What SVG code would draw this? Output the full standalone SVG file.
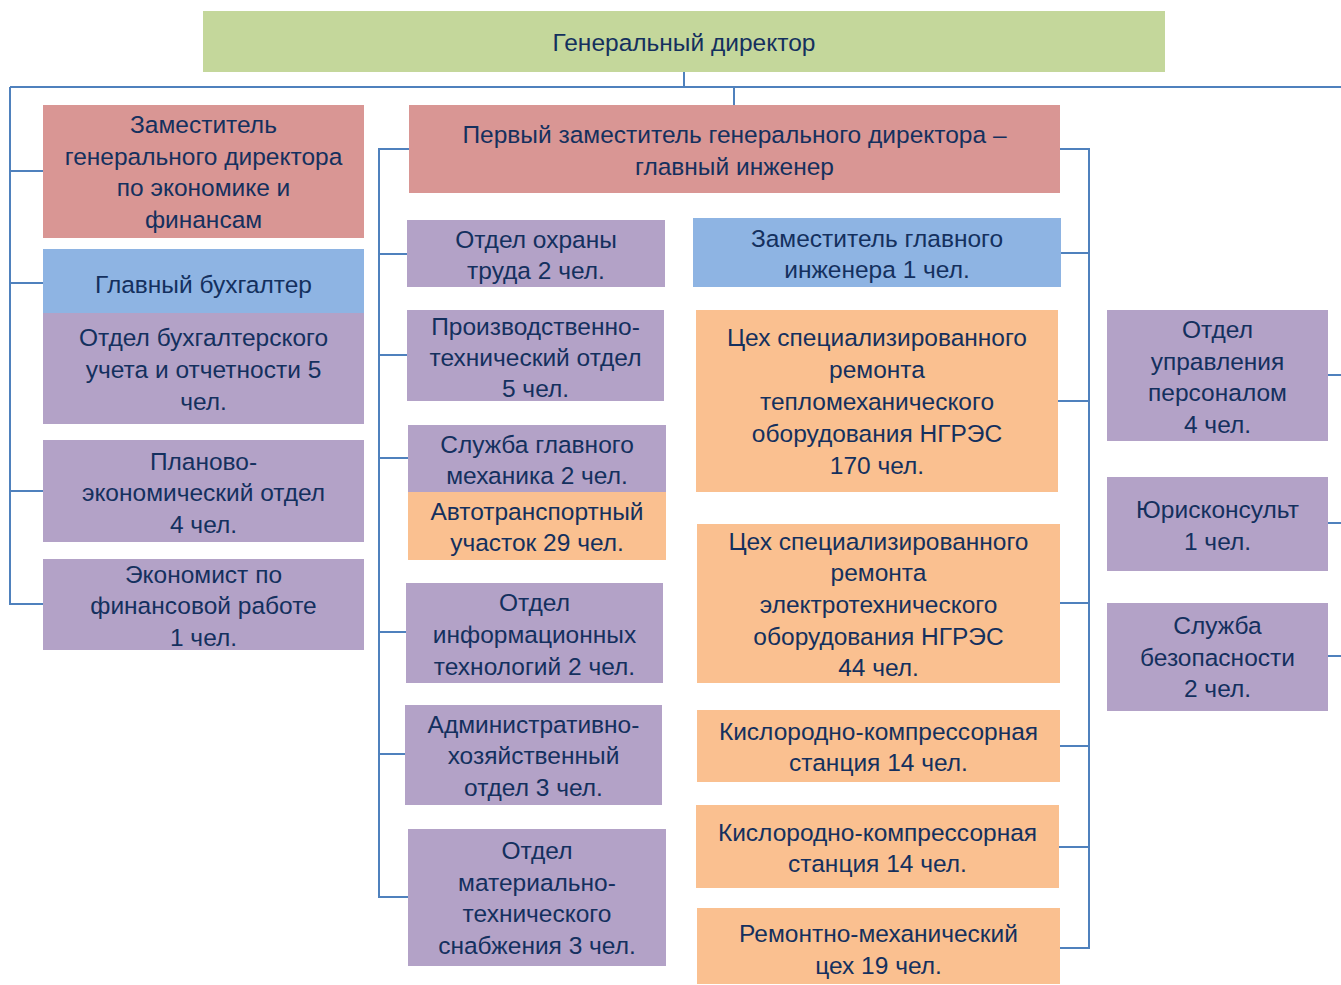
<svg xmlns="http://www.w3.org/2000/svg" width="1341" height="985" viewBox="0 0 1341 985">
<style>
text{font-family:"Liberation Sans",Arial,sans-serif;font-size:24.5px;fill:#14305E;text-anchor:middle}
.g{fill:#C4D79B}.p{fill:#D99694}.b{fill:#8EB4E3}.v{fill:#B3A2C7}.o{fill:#FAC090}
#connectors path{fill:none;stroke:#4F81BD;stroke-width:2}
</style>
<rect width="1341" height="985" fill="#FFFFFF"/>
<g id="connectors">
<path d="M684,72V87"/>
<path d="M10,87H1341"/>
<path d="M734,87V105"/>
<path d="M10,87V604H43M10,171H43M10,283H43M10,491H43"/>
<path d="M409,149H379V897H408M379,254H407M379,355H407M379,458H408M379,632H406M379,754H405"/>
<path d="M1060,149H1089V948H1060M1089,253H1061M1089,401H1058M1089,603H1060M1089,746H1060M1089,847H1059"/>
<path d="M1328,375H1341M1328,523H1341M1328,656H1341"/>
</g>
<g id="gen"><rect class="g" x="203" y="11" width="962" height="61"/><text x="684" y="51">Генеральный директор</text></g>
<g id="zam-econ"><rect class="p" x="43" y="105" width="321" height="133"/><text x="203.5" y="133">Заместитель</text><text x="203.5" y="165">генерального директора</text><text x="203.5" y="196">по экономике и</text><text x="203.5" y="228">финансам</text></g>
<g id="glbuh"><rect class="b" x="43" y="249" width="321" height="64"/><text x="203.5" y="293">Главный бухгалтер</text></g>
<g id="otd-buh"><rect class="v" x="43" y="313" width="321" height="111"/><text x="203.5" y="346">Отдел бухгалтерского</text><text x="203.5" y="378">учета и отчетности 5</text><text x="203.5" y="410">чел.</text></g>
<g id="plan"><rect class="v" x="43" y="440" width="321" height="102"/><text x="203.5" y="470">Планово-</text><text x="203.5" y="501">экономический отдел</text><text x="203.5" y="533">4 чел.</text></g>
<g id="econom"><rect class="v" x="43" y="559" width="321" height="91"/><text x="203.5" y="583">Экономист по</text><text x="203.5" y="614">финансовой работе</text><text x="203.5" y="646">1 чел.</text></g>
<g id="first-zam"><rect class="p" x="409" y="105" width="651" height="88"/><text x="734.5" y="143">Первый заместитель генерального директора –</text><text x="734.5" y="175">главный инженер</text></g>
<g id="ohrana"><rect class="v" x="407" y="220" width="258" height="67"/><text x="536" y="248">Отдел охраны</text><text x="536" y="279">труда 2 чел.</text></g>
<g id="pto"><rect class="v" x="407" y="310" width="257" height="91"/><text x="535.5" y="335">Производственно-</text><text x="535.5" y="366">технический отдел</text><text x="535.5" y="397">5 чел.</text></g>
<g id="mech"><rect class="v" x="408" y="425" width="258" height="67"/><text x="537" y="453">Служба главного</text><text x="537" y="484">механика 2 чел.</text></g>
<g id="avto"><rect class="o" x="408" y="492" width="258" height="68"/><text x="537" y="520">Автотранспортный</text><text x="537" y="551">участок 29 чел.</text></g>
<g id="it"><rect class="v" x="406" y="583" width="257" height="100"/><text x="534.5" y="611">Отдел</text><text x="534.5" y="643">информационных</text><text x="534.5" y="675">технологий 2 чел.</text></g>
<g id="aho"><rect class="v" x="405" y="705" width="257" height="100"/><text x="533.5" y="733">Административно-</text><text x="533.5" y="764">хозяйственный</text><text x="533.5" y="796">отдел 3 чел.</text></g>
<g id="mts"><rect class="v" x="408" y="829" width="258" height="137"/><text x="537" y="859">Отдел</text><text x="537" y="891">материально-</text><text x="537" y="922">технического</text><text x="537" y="954">снабжения 3 чел.</text></g>
<g id="zam-gi"><rect class="b" x="693" y="218" width="368" height="69"/><text x="877" y="247">Заместитель главного</text><text x="877" y="278">инженера 1 чел.</text></g>
<g id="ceh1"><rect class="o" x="696" y="310" width="362" height="182"/><text x="877" y="346">Цех специализированного</text><text x="877" y="378">ремонта</text><text x="877" y="410">тепломеханического</text><text x="877" y="442">оборудования НГРЭС</text><text x="877" y="474">170 чел.</text></g>
<g id="ceh2"><rect class="o" x="697" y="524" width="363" height="159"/><text x="878.5" y="550">Цех специализированного</text><text x="878.5" y="581">ремонта</text><text x="878.5" y="613">электротехнического</text><text x="878.5" y="645">оборудования НГРЭС</text><text x="878.5" y="676">44 чел.</text></g>
<g id="kks1"><rect class="o" x="697" y="710" width="363" height="72"/><text x="878.5" y="740">Кислородно-компрессорная</text><text x="878.5" y="771">станция 14 чел.</text></g>
<g id="kks2"><rect class="o" x="696" y="805" width="363" height="83"/><text x="877.5" y="841">Кислородно-компрессорная</text><text x="877.5" y="872">станция 14 чел.</text></g>
<g id="rmc"><rect class="o" x="697" y="908" width="363" height="76"/><text x="878.5" y="942">Ремонтно-механический</text><text x="878.5" y="974">цех 19 чел.</text></g>
<g id="oup"><rect class="v" x="1107" y="310" width="221" height="131"/><text x="1217.5" y="338">Отдел</text><text x="1217.5" y="370">управления</text><text x="1217.5" y="401">персоналом</text><text x="1217.5" y="433">4 чел.</text></g>
<g id="jur"><rect class="v" x="1107" y="477" width="221" height="94"/><text x="1217.5" y="518">Юрисконсульт</text><text x="1217.5" y="550">1 чел.</text></g>
<g id="sb"><rect class="v" x="1107" y="603" width="221" height="108"/><text x="1217.5" y="634">Служба</text><text x="1217.5" y="666">безопасности</text><text x="1217.5" y="697">2 чел.</text></g>
</svg>
